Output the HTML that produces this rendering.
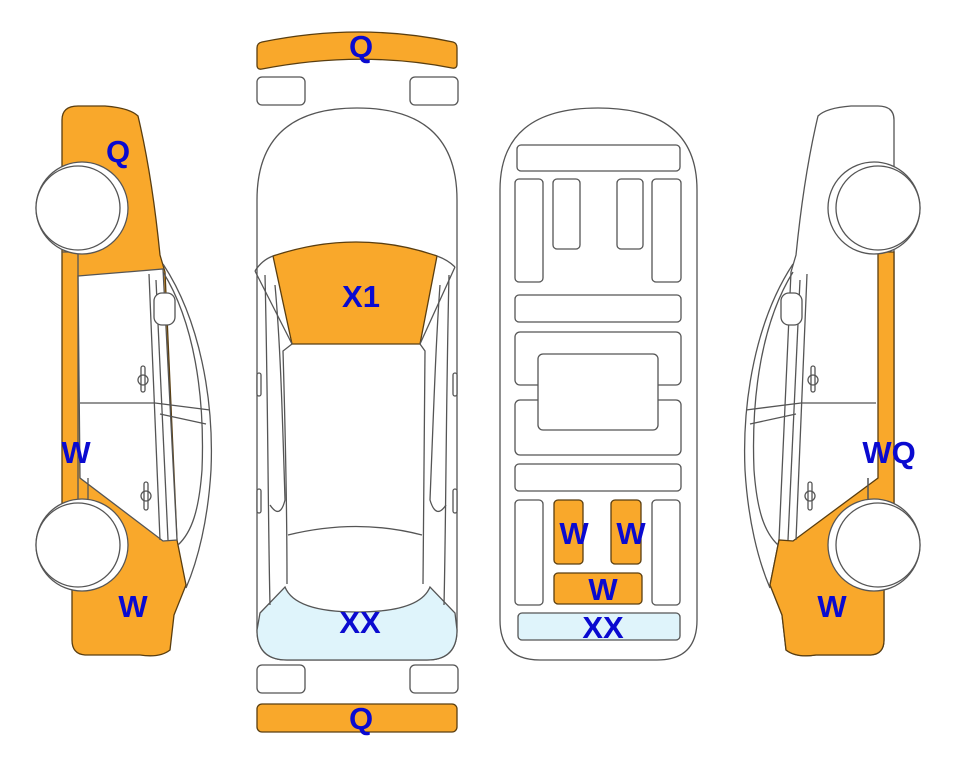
<!DOCTYPE html>
<html><head><meta charset="utf-8"><style>
html,body{margin:0;padding:0;background:#fff;}
svg{display:block;}
text{font-family:"Liberation Sans",sans-serif;font-weight:bold;fill:#0a0ad0;font-size:31px;text-anchor:middle;}
</style></head><body>
<svg width="963" height="768" viewBox="0 0 963 768" xmlns="http://www.w3.org/2000/svg">
<defs>
<g id="arcs" fill="none" stroke="#555" stroke-width="1.3">
  <path d="M163,264 C200,320 214,400 211,470 C208,520 198,560 186,588"/>
  <path d="M163,272 C194,322 205,395 202,470 C199,510 192,532 178,545"/>
  <path d="M149,274 L160,540"/>
  <path d="M156,280 L168,540"/>
  <path d="M80,403 L155,403 L210,410"/>
  <path d="M160,414 L206,424"/>
  <path d="M88,478 L88,505"/>
</g>
</defs>

<!-- LEFT CAR -->
<g stroke="#555" stroke-width="1.3">
  <path d="M62,120 Q62,106 78,106 L105,106 Q130,108 138,116 Q152,175 160,255 L165,272 L177,540 L186,585 L174,615 L170,650 Q160,658 140,655 L85,655 Q72,654 72,640 L72,585 L62,580 Z" fill="#f9a82b" stroke="#5a3e10"/>
  <path d="M78,276 L163,269 L177,540 L163,541 L80,478 Z" fill="#fff"/>
  <path d="M62,252 L78,252 L78,505 L62,505" fill="none"/>
</g>
<use href="#arcs"/>
<g stroke="#555" stroke-width="1.3" fill="#fff">
  <rect x="154" y="293" width="21" height="32" rx="8"/>
  <rect x="141" y="366" width="4" height="26" rx="2"/><circle cx="143" cy="380" r="5" fill="none"/>
  <rect x="144" y="482" width="4" height="28" rx="2"/><circle cx="146" cy="496" r="5" fill="none"/>
  <circle cx="82" cy="208" r="46"/><circle cx="78" cy="208" r="42"/>
  <circle cx="82" cy="545" r="46"/><circle cx="78" cy="545" r="42"/>
</g>

<!-- RIGHT CAR (mirrored) -->
<g transform="matrix(-1 0 0 1 956 0)">
 <g stroke="#555" stroke-width="1.3">
  <path d="M62,120 Q62,106 78,106 L105,106 Q130,108 138,116 Q152,175 160,255 L165,272 L177,540 L186,585 L174,615 L170,650 Q160,658 140,655 L85,655 Q72,654 72,640 L72,585 L62,580 Z" fill="#fff"/>
  <path d="M62,252 L78,252 L78,478 L163,541 L177,540 L186,585 L174,615 L170,650 Q160,658 140,655 L85,655 Q72,654 72,640 L72,585 L62,580 Z" fill="#f9a82b" stroke="#5a3e10"/>
  <path d="M88,478 L88,505"/>
 </g>
 <use href="#arcs"/>
 <g stroke="#555" stroke-width="1.3" fill="#fff">
  <rect x="154" y="293" width="21" height="32" rx="8"/>
  <rect x="141" y="366" width="4" height="26" rx="2"/><circle cx="143" cy="380" r="5" fill="none"/>
  <rect x="144" y="482" width="4" height="28" rx="2"/><circle cx="146" cy="496" r="5" fill="none"/>
  <circle cx="82" cy="208" r="46"/><circle cx="78" cy="208" r="42"/>
  <circle cx="82" cy="545" r="46"/><circle cx="78" cy="545" r="42"/>
 </g>
</g>

<!-- TOP VIEW CAR -->
<g stroke="#555" stroke-width="1.3" fill="#fff">
  <path d="M262,42 Q360,22 453,42 Q457,43 457,48 L457,64 Q457,69 452,68 Q360,50 262,69 Q257,70 257,65 L257,48 Q257,43 262,42 Z" fill="#f9a82b" stroke="#5a3e10"/>
  <rect x="257" y="77" width="48" height="28" rx="5"/>
  <rect x="410" y="77" width="48" height="28" rx="5"/>
  <rect x="257" y="665" width="48" height="28" rx="5"/>
  <rect x="410" y="665" width="48" height="28" rx="5"/>
  <rect x="257" y="704" width="200" height="28" rx="5" fill="#f9a82b" stroke="#5a3e10"/>
  <path d="M257,200 Q257,108 357,108 Q457,108 457,200 L457,630 Q457,660 427,660 L287,660 Q257,660 257,630 Z"/>
  <path d="M260,613 L285,587 Q295,612 357,612 Q420,612 430,587 L455,613 L457,630 Q457,660 427,660 L287,660 Q257,660 257,630 Z" fill="#dff4fb"/>
  <path d="M273,256 Q357,228 437,256 L420,344 L292,344 Z" fill="#f9a82b" stroke="#5a3e10"/>
  <path d="M255,271 Q262,260 273,256 M455,267 Q448,260 437,256" fill="none"/>
  <path d="M255,271 L292,344 M455,267 L420,344" fill="none"/>
  <path d="M265,275 C268,400 268,520 270,605 M449,275 C446,400 446,520 444,605" fill="none"/>
  <path d="M292,344 L283,351 C285,420 287,500 287,584 M420,344 L425,351 C424,420 423,500 423,584" fill="none"/>
  <path d="M288,535 Q357,518 422,535" fill="none"/>
  <path d="M275,285 C280,340 282,400 285,500 Q280,520 270,505 M440,285 C436,340 434,400 430,500 Q436,520 446,505" fill="none"/>
  <rect x="257" y="373" width="4" height="23" rx="2"/>
  <rect x="257" y="489" width="4" height="24" rx="2"/>
  <rect x="453" y="373" width="4" height="23" rx="2"/>
  <rect x="453" y="489" width="4" height="24" rx="2"/>
</g>

<!-- UNDERSIDE VIEW -->
<g stroke="#555" stroke-width="1.3" fill="#fff">
  <path d="M500,190 Q500,108 598,108 Q697,108 697,190 L697,620 Q697,660 657,660 L540,660 Q500,660 500,620 Z"/>
  <rect x="517" y="145" width="163" height="26" rx="4"/>
  <rect x="515" y="179" width="28" height="103" rx="4"/>
  <rect x="553" y="179" width="27" height="70" rx="4"/>
  <rect x="617" y="179" width="26" height="70" rx="4"/>
  <rect x="652" y="179" width="29" height="103" rx="4"/>
  <rect x="515" y="295" width="166" height="27" rx="4"/>
  <rect x="515" y="332" width="166" height="53" rx="5"/>
  <rect x="515" y="400" width="166" height="55" rx="5"/>
  <rect x="538" y="354" width="120" height="76" rx="5"/>
  <rect x="515" y="464" width="166" height="27" rx="4"/>
  <rect x="515" y="500" width="28" height="105" rx="4"/>
  <rect x="652" y="500" width="28" height="105" rx="4"/>
  <rect x="554" y="500" width="29" height="64" rx="4" fill="#f9a82b" stroke="#5a3e10"/>
  <rect x="611" y="500" width="30" height="64" rx="4" fill="#f9a82b" stroke="#5a3e10"/>
  <rect x="554" y="573" width="88" height="31" rx="4" fill="#f9a82b" stroke="#5a3e10"/>
  <rect x="518" y="613" width="162" height="27" rx="4" fill="#dff4fb"/>
</g>

<!-- LABELS -->
<text x="361" y="57">Q</text>
<text x="361" y="307">X1</text>
<text x="360" y="633">XX</text>
<text x="361" y="729">Q</text>
<text x="574" y="544">W</text>
<text x="631" y="544">W</text>
<text x="603" y="600">W</text>
<text x="603" y="638">XX</text>
<text x="118" y="162">Q</text>
<text x="76" y="463">W</text>
<text x="133" y="617">W</text>
<text x="889" y="463">WQ</text>
<text x="832" y="617">W</text>
</svg>
</body></html>
